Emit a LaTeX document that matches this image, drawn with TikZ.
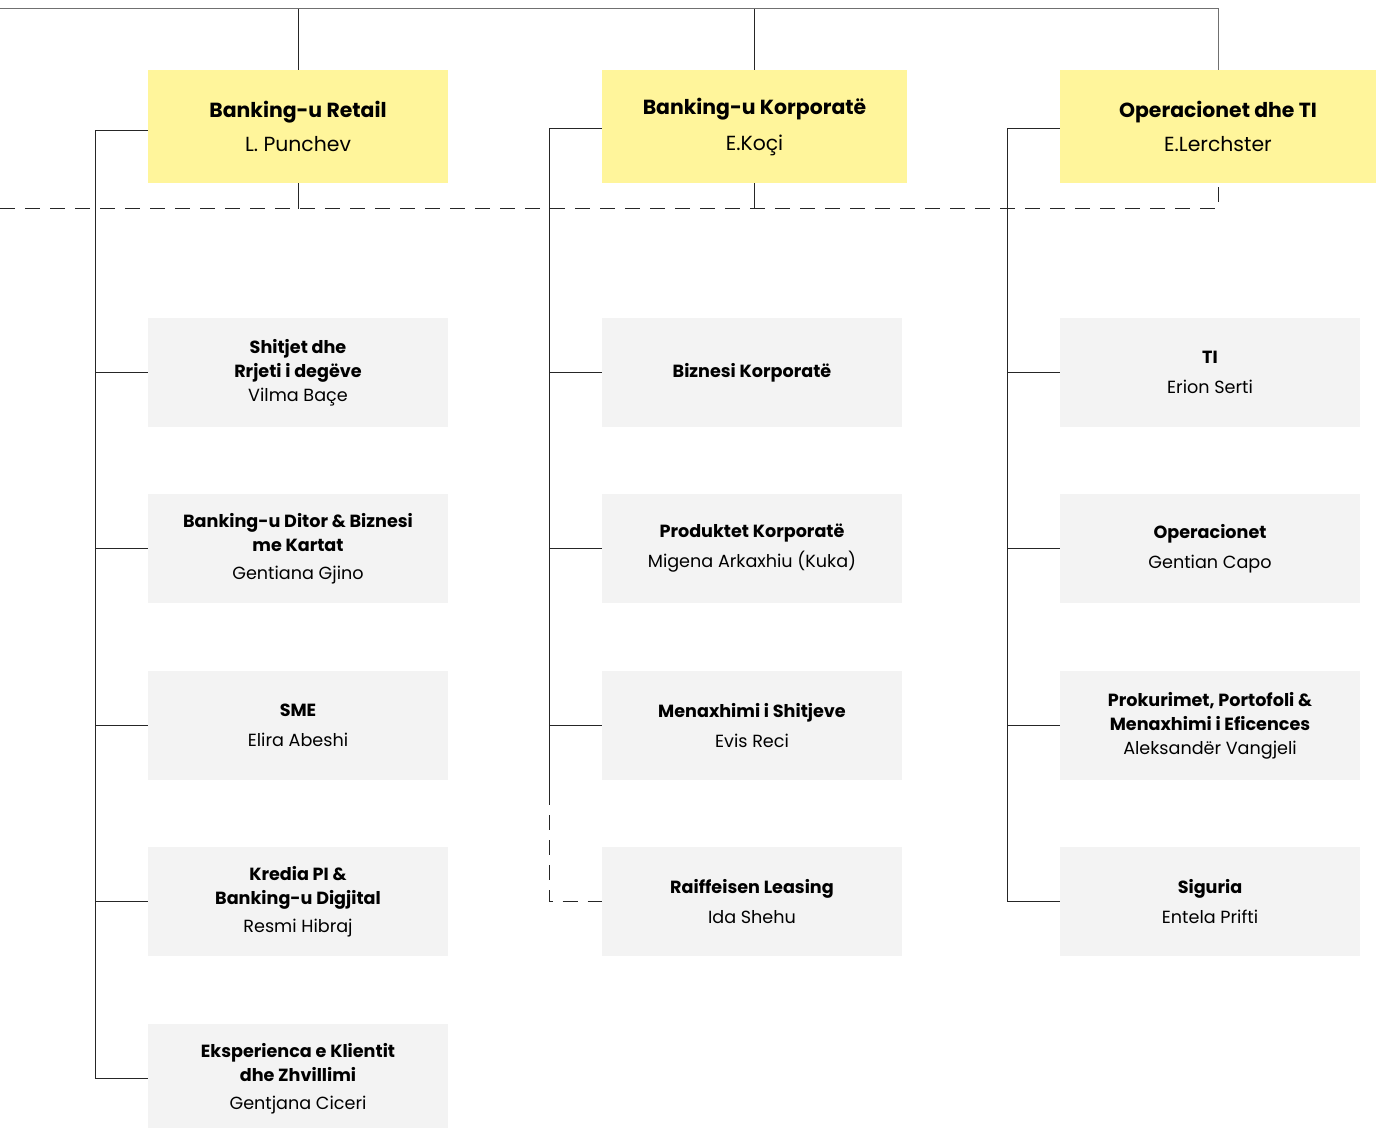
\documentclass[tikz,border=0pt]{standalone}
\usepackage{fontspec}
\setmainfont{Poppins}
\usepackage{tikz}

\definecolor{headyellow}{HTML}{FFF59B}
\definecolor{unitgray}{HTML}{F3F3F3}
\definecolor{linegray}{HTML}{707070}

\begin{document}
\begin{tikzpicture}[x=0.5pt, y=-0.5pt,
    head/.style={fill=headyellow, minimum width=150pt, minimum height=56.5pt,
                 align=center, font=\fontsize{10.2}{17}\selectfont, inner sep=0pt},
    unit/.style={fill=unitgray, minimum width=150pt, minimum height=54.5pt,
                 align=center, font=\fontsize{8.8}{12}\selectfont, inner sep=0pt},
    link/.style={draw=black!85, line width=0.5pt},
    dashlink/.style={link, dash pattern=on 7.5pt off 5pt}]
  \useasboundingbox (0,0) rectangle (1382,1128);

  % heads
  \node[head] (retail) at (298,126.5) {\textbf{Banking-u Retail}\\L. Punchev};
  \node[head, minimum width=152.5pt] (korp) at (754.5,126.5) {\textbf{Banking-u Korporatë}\\[1pt]E.Koçi};
  \node[head, minimum width=158pt] (ops) at (1218,126.5) {\textbf{Operacionet dhe TI}\\E.Lerchster};

  % units
  \node[unit] (r1) at (298,372.5) {\textbf{Shitjet dhe}\\\textbf{Rrjeti i degëve}\\Vilma Baçe};
  \node[unit] (r2) at (298,548.5) {\textbf{Banking-u Ditor \& Biznesi}\\\textbf{me Kartat}\\[2pt]Gentiana Gjino};
  \node[unit] (r3) at (298,725.5) {\textbf{SME}\\[3pt]Elira Abeshi};
  \node[unit] (r4) at (298,901.5) {\textbf{Kredia PI \&}\\\textbf{Banking-u Digjital}\\[2pt]Resmi Hibraj};
  \node[unit] (r5) at (298,1078.5) {\textbf{Eksperienca e Klientit}\\\textbf{dhe Zhvillimi}\\[2pt]Gentjana Ciceri};

  \node[unit] (k1) at (752,372.5) {\textbf{Biznesi Korporatë}};
  \node[unit] (k2) at (752,548.5) {\textbf{Produktet Korporatë}\\[3pt]Migena Arkaxhiu (Kuka)};
  \node[unit] (k3) at (752,725.5) {\textbf{Menaxhimi i Shitjeve}\\[3pt]Evis Reci};
  \node[unit] (k4) at (752,901.5) {\textbf{Raiffeisen Leasing}\\[3pt]Ida Shehu};

  \node[unit] (o1) at (1210,372.5) {\textbf{TI}\\[3pt]Erion Serti};
  \node[unit] (o2) at (1210,548.5) {\textbf{Operacionet}\\[3pt]Gentian Capo};
  \node[unit] (o3) at (1210,725.5) {\textbf{Prokurimet, Portofoli \&}\\\textbf{Menaxhimi i Eficences}\\Aleksandër Vangjeli};
  \node[unit] (o4) at (1210,901.5) {\textbf{Siguria}\\[3pt]Entela Prifti};

  % top bus and dashed line
  \coordinate (topbus) at (0,9);
  \coordinate (dashbus) at (0,209);
  \draw[link, draw=linegray] (topbus) -| (ops.north);
  \draw[link] (retail.north) -- (retail.north |- topbus);
  \draw[link] (korp.north) -- (korp.north |- topbus);
  \draw[dashlink] (dashbus) -| (ops.south);
  \draw[link] (retail.south) -- (retail.south |- dashbus);
  \draw[link] (korp.south) -- (korp.south |- dashbus);

  % left spines
  \coordinate (rspine) at (95,131);
  \coordinate (kspine) at (549,129);
  \coordinate (kbreak) at (549,790);
  \coordinate (ospine) at (1007,129);
  \draw[link] (retail.west |- rspine) -- (rspine) |- (r5.west);
  \draw[link] (korp.west |- kspine) -- (kspine) -- (kbreak);
  \draw[dashlink] (kbreak) |- (k4.west);
  \draw[link] (ops.west |- ospine) -- (ospine) |- (o4.west);
  \foreach \i in {1,...,4}{
    \draw[link] (r\i.west) -- (r\i.west -| rspine);
    \draw[link] (o\i.west) -- (o\i.west -| ospine);
  }
  \foreach \i in {1,...,3}{
    \draw[link] (k\i.west) -- (k\i.west -| kspine);
  }
\end{tikzpicture}
\end{document}
